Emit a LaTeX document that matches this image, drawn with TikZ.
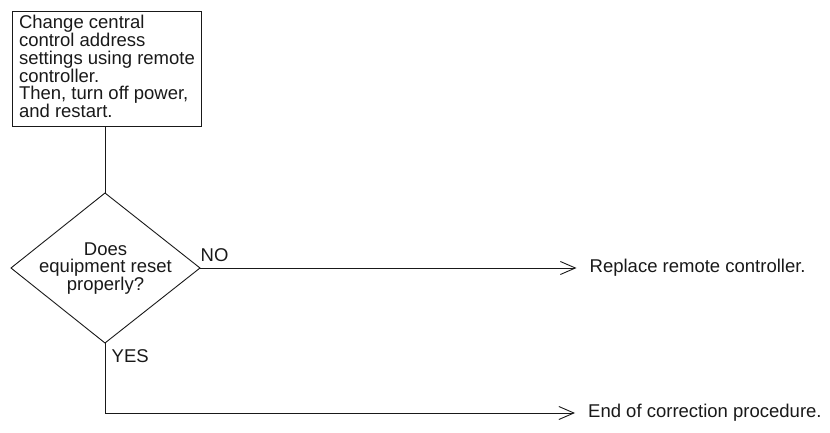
\documentclass[tikz,border=0pt]{standalone}
\usepackage{fontspec}
\setmainfont{Liberation Sans}
\usetikzlibrary{arrows.meta}
\tikzset{
  lbl/.style={font=\fontsize{18.5}{17.8}\selectfont, inner sep=0pt, text=black!90},
  conn/.style={line width=0.9pt, draw=black!90},
  arr/.style={conn, -{Straight Barb[length=15pt,width=13pt,line width=0.9pt]}},
}
\begin{document}
\begin{tikzpicture}[x=1pt,y=-1pt]
\useasboundingbox (0,0) rectangle (830,433);
% process box
\node[lbl, draw=black!90, line width=0.9pt, anchor=north west, minimum width=189pt, minimum height=115pt, align=left, text depth=6pt] (box) at (12,11.5)
  {Change central\\control address\\settings using remote\\controller.\\Then, turn off power,\\and restart.};
% decision diamond
\coordinate (dtop) at (105,193);
\coordinate (dleft) at (11,268);
\coordinate (dright) at (200,268);
\coordinate (dbot) at (105,343);
\draw[conn, line join=miter] (dtop) -- (dright) -- (dbot) -- (dleft) -- cycle;
\node[lbl, align=center] (dec) at (105.5,268.5) {Does\\equipment reset\\properly?};
% outputs
\node[lbl, anchor=west] (rep) at (589.5,268) {Replace remote controller.};
\node[lbl, anchor=west] (endp) at (588,413) {End of correction procedure.};
\coordinate (corner) at (105,413);
% labels
\node[lbl, anchor=base west] (no) at (200.5,261) {NO};
\node[lbl, anchor=base west] (yes) at (111.5,362.5) {YES};
% connectors
\draw[conn] (box.south -| dtop) -- (dtop);
\draw[arr, shorten >=13pt] (dright) -- (rep.west);
\draw[conn] (dbot) -- (corner);
\draw[arr, shorten >=13pt] (corner) -- (endp.west);
\end{tikzpicture}
\end{document}
